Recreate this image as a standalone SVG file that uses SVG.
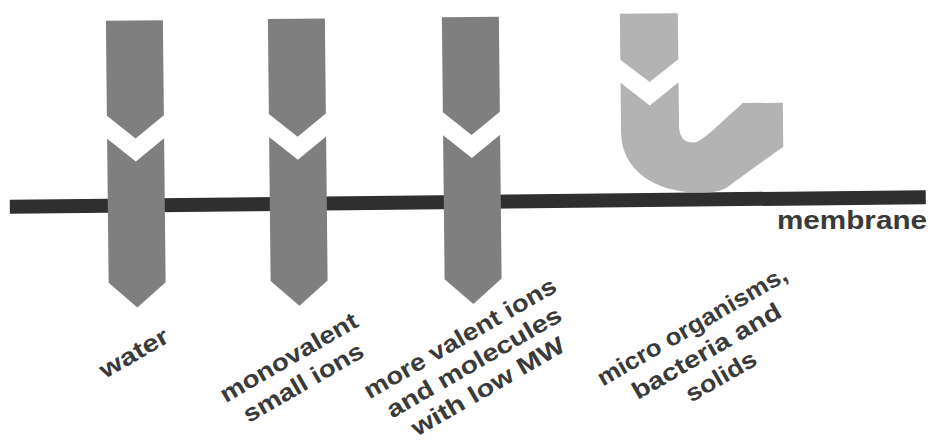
<svg xmlns="http://www.w3.org/2000/svg" width="930" height="443" viewBox="0 0 930 443">
  <style>
    .arrow { fill: #7f7f7f; }
    .arrow-light { fill: #b3b3b3; }
    .membrane { fill: #2f2f2f; }
    .label { font-family: "Liberation Sans", Arial, sans-serif; font-weight: bold; font-size: 24px; fill: #3a3a3a; text-anchor: middle; }
    .mlabel { font-family: "Liberation Sans", Arial, sans-serif; font-weight: bold; font-size: 25px; fill: #3a3a3a; }
  </style>
  <rect width="930" height="443" fill="#ffffff"/>
  <g transform="rotate(-0.6 465 221)">
    <g id="membrane">
      <rect class="membrane" x="10" y="195" width="916" height="14"/>
    </g>
    <g id="arrow-water">
      <path class="arrow" d="M108,17 H165 V112 L136.5,135 L108,112 Z"/>
      <path class="arrow" d="M108,135 L136.5,158 L165,135 V279 L136.5,304 L108,279 Z"/>
    </g>
    <g id="arrow-monovalent">
      <path class="arrow" d="M270,17 H327 V112 L298.5,135 L270,112 Z"/>
      <path class="arrow" d="M270,135 L298.5,158 L327,135 V279 L298.5,304 L270,279 Z"/>
    </g>
    <g id="arrow-multivalent">
      <path class="arrow" d="M444,17 H501 V112 L472.5,135 L444,112 Z"/>
      <path class="arrow" d="M444,135 L472.5,158 L501,135 V279 L472.5,304 L444,279 Z"/>
    </g>
    <g id="arrow-micro">
      <path class="arrow-light" d="M622,15.5 H680 V61.5 L651,84 L622,61.5 Z"/>
      <path class="arrow-light" d="M622,84.5 L651,107.5 L680,84.5 V128 C680,140 686,145 694,145 C701,145 707,139 744,106 H784 V150 L726,191 C718,195 710,195 700,195 C655,195 622,172 622,134 Z"/>
    </g>
  </g>
  <g id="label-membrane">
    <text class="mlabel" x="777" y="229" textLength="150" lengthAdjust="spacingAndGlyphs">membrane</text>
  </g>
  <g id="label-water" transform="translate(138 360) rotate(-30)">
    <text class="label" x="0" y="0" textLength="76" lengthAdjust="spacingAndGlyphs">water</text>
  </g>
  <g id="label-monovalent" transform="translate(292.8 364.4) rotate(-30)">
    <text class="label" x="0" y="0" textLength="155" lengthAdjust="spacingAndGlyphs">monovalent</text>
    <text class="label" x="0" y="29" textLength="135" lengthAdjust="spacingAndGlyphs">small ions</text>
  </g>
  <g id="label-multivalent" transform="translate(464 345) rotate(-30)">
    <text class="label" x="0" y="0" textLength="218" lengthAdjust="spacingAndGlyphs">more valent ions</text>
    <text class="label" x="0" y="28" textLength="198" lengthAdjust="spacingAndGlyphs">and molecules</text>
    <text class="label" x="0" y="56" textLength="173" lengthAdjust="spacingAndGlyphs">with low MW</text>
  </g>
  <g id="label-micro" transform="translate(696 333) rotate(-30)">
    <text class="label" x="0" y="0" textLength="215" lengthAdjust="spacingAndGlyphs">micro organisms,</text>
    <text class="label" x="0" y="29" textLength="168" lengthAdjust="spacingAndGlyphs">bacteria and</text>
    <text class="label" x="0" y="58" textLength="78" lengthAdjust="spacingAndGlyphs">solids</text>
  </g>
  <g id="connectors"></g>
</svg>
